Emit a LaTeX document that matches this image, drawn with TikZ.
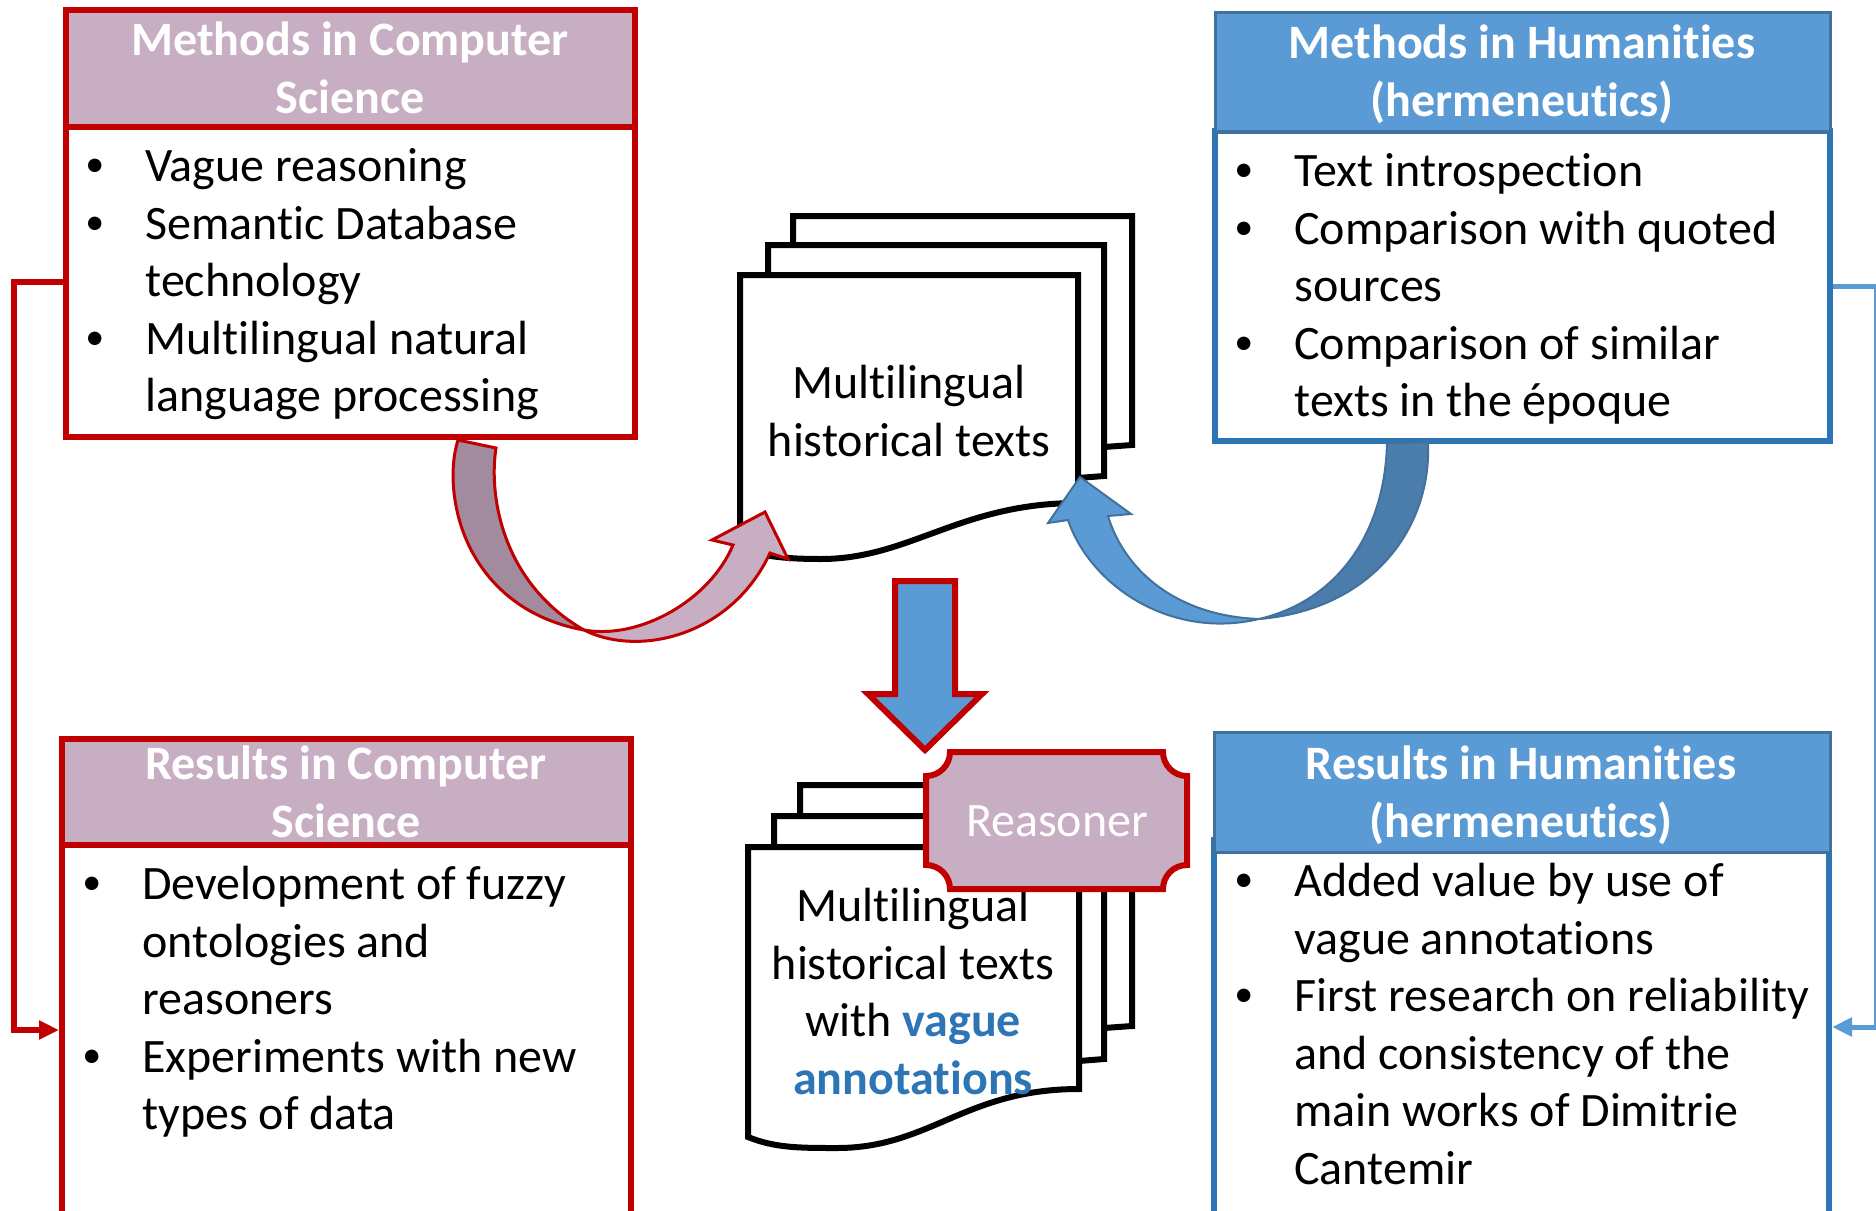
\documentclass[tikz,border=0pt]{standalone}
\usepackage{fontspec}
\setmainfont{Carlito}[Ligatures=NoCommon]
\usetikzlibrary{arrows.meta,calc}
\definecolor{cred}{HTML}{C00000}
\definecolor{mauve}{HTML}{C8AEC2}
\definecolor{dmauve}{HTML}{A28B9E}
\definecolor{cblue}{HTML}{5B9BD5}
\definecolor{bblue}{HTML}{2E75B6}
\definecolor{dblue}{HTML}{4A7CAC}
\definecolor{hblue}{HTML}{41719C}
\newcommand{\fsz}{\fontsize{24}{28.75}\selectfont}
\newcommand{\bul}{\strut\makebox[30pt][l]{\raisebox{2.5pt}{\fontsize{19}{19}\selectfont\textbullet}}}
\newcommand{\ind}{\strut\hspace*{30pt}}
\tikzset{
  px/.style={x=0.5pt,y=-0.5pt},
  boxbase/.style={draw,line width=3pt,inner sep=0pt,line join=miter},
  redhead/.style={boxbase,draw=cred,fill=mauve},
  redbody/.style={boxbase,draw=cred,fill=white},
  bluehead/.style={boxbase,draw=hblue,line width=1.5pt,fill=cblue},
  bluebody/.style={boxbase,draw=bblue,fill=white},
  headtext/.style={anchor=north,inner sep=0pt,align=center,text=white,font=\fsz\bfseries},
  bodytext/.style={anchor=north west,inner sep=0pt,align=left,text=black,font=\fsz},
  doctext/.style={anchor=north,inner sep=0pt,align=center,text=black,font=\fsz},
  page/.style={draw=black,fill=white,line width=3pt,line join=miter},
  redlink/.style={draw=cred,line width=3pt,-{Triangle[length=10pt,width=9pt]}},
  bluelink/.style={draw=cblue,line width=2.5pt,-{Triangle[length=10pt,width=9pt]}},
  curvered/.style={draw=cred,line width=1.5pt,line join=miter},
  curveblue/.style={draw=hblue,line width=1pt,line join=miter},
}
\begin{document}
\begin{tikzpicture}[px]
\useasboundingbox (0,0) rectangle (1876,1211);
\clip (0,0) rectangle (1876,1211);
\fill[white] (0,0) rectangle (1876,1211);

% boxes
\node[redhead,minimum width=284.5pt,minimum height=58.5pt] (m1h) at (350.5,68.5) {};
\node[redbody,minimum width=284.5pt,minimum height=155pt] (m1b) at (350.5,282) {};
\node[bluebody,minimum width=307.5pt,minimum height=155pt] (m2b) at (1522.5,286) {};
\node[bluehead,minimum width=307.5pt,minimum height=59.5pt] (m2h) at (1522.5,71.5) {};
\node[redhead,minimum width=284.5pt,minimum height=53pt] (r1h) at (346.5,792) {};
\node[redbody,minimum width=284.5pt,minimum height=185pt] (r1b) at (346.5,1030) {};
\node[bluebody,minimum width=307.5pt,minimum height=187pt] (r2b) at (1521.5,1027) {};
\node[bluehead,minimum width=308pt,minimum height=60pt] (r2h) at (1522,792) {};

% connectors
\coordinate (lbend) at (14,282);
\coordinate (rbend) at (1876,286);
\draw[redlink] (m1b.west) -- (lbend) |- (r1b.west);
\draw[bluelink] (m2b.east) -- (rbend) |- (r2b.east);

% top document stack
\path[page] (793,216) -- (1132,216) -- (1132,445) -- (1104,447) -- (793,447) -- cycle;
\path[page] (768,245) -- (1104,245) -- (1104,476) -- (1078,478) -- (768,478) -- cycle;
\path[page] (740,275) -- (1078,275) -- (1078,503) .. controls (960,503) and (910,559) .. (821,559) .. controls (790,559) and (765,557) .. (740,549) -- cycle;
\node[doctext] (doc1) at (909,358) {\strut Multilingual\\\strut historical texts};

% bottom document stack
\path[page] (800,785) -- (1132,785) -- (1132,1026) -- (1104,1028) -- (800,1028) -- cycle;
\path[page] (774,816) -- (1104,816) -- (1104,1059) -- (1079,1061) -- (774,1061) -- cycle;
\path[page] (748,847) -- (1079,847) -- (1079,1089) .. controls (965,1089) and (930,1148) .. (837,1148) .. controls (800,1148) and (775,1148) .. (748,1137) -- cycle;
\node[doctext] (doc2) at (913,881) {\strut Multilingual\\\strut historical texts\\\strut with \textcolor{bblue}{\textbf{vague}}\\\strut\textcolor{bblue}{\textbf{annotations}}};

% plaque
\path[draw=cred,fill=mauve,line width=3pt,line join=miter]
  (950,752) -- (1163,752) arc[start angle=180,end angle=270,x radius=24,y radius=-24]
  -- (1187,865) arc[start angle=90,end angle=180,x radius=24,y radius=-24]
  -- (950,889) arc[start angle=0,end angle=90,x radius=24,y radius=-24]
  -- (926,776) arc[start angle=270,end angle=360,x radius=24,y radius=-24] -- cycle;
\node[anchor=north,inner sep=0pt,text=white,font=\fsz] (reasoner) at (1057,796) {\strut Reasoner};

% big down arrow
\path[draw=cred,fill=cblue,line width=3pt,line join=miter]
  (895,581) -- (955,581) -- (955,694) -- (982,694) -- (925,750) -- (868,694) -- (895,694) -- cycle;

% left curved arrow
\path[curvered,fill=mauve] (584,630) .. controls (640,658) and (732,635) .. (770,553)
  -- (788,559) -- (765,512) -- (712,540) -- (733,545)
  .. controls (710,600) and (640,640) .. (584,630) -- cycle;
\path[curvered,fill=dmauve] (458,440) -- (496,448) .. controls (488,500) and (505,585) .. (584,630)
  .. controls (500,615) and (455,550) .. (453,478) .. controls (453,460) and (455,450) .. (458,440) -- cycle;

% right curved arrow
\path[curveblue,fill=cblue] (1259,619) .. controls (1170,640) and (1090,585) .. (1068,520)
  -- (1048,523) -- (1080,477) -- (1131,514) -- (1108,516)
  .. controls (1125,572) and (1178,616) .. (1259,619) -- cycle;
\path[curveblue,fill=dblue] (1387,443) -- (1428,442) .. controls (1432,530) and (1370,610) .. (1259,619)
  .. controls (1340,600) and (1385,530) .. (1387,443) -- cycle;

% header text
\node[headtext] (t1) at (350,15) {\strut Methods in Computer\\\strut Science};
\node[headtext] (t2) at (1522,18) {\strut Methods in Humanities\\\strut (hermeneutics)};
\node[headtext] (t3) at (346,739) {\strut Results in Computer\\\strut Science};
\node[headtext] (t4) at (1521,739) {\strut Results in Humanities\\\strut (hermeneutics)};

% body text
\node[bodytext] (b1) at (85,141) {\bul Vague reasoning\\\bul Semantic Database\\\ind technology\\\bul Multilingual natural\\\ind language processing};
\node[bodytext] (b2) at (1234,146) {\bul Text introspection\\\bul Comparison with quoted\\\ind sources\\\bul Comparison of similar\\\ind texts in the époque};
\node[bodytext] (b3) at (82,859) {\bul Development of fuzzy\\\ind ontologies and\\\ind reasoners\\\bul Experiments with new\\\ind types of data};
\node[bodytext] (b4) at (1234,856) {\bul Added value by use of\\\ind vague annotations\\\bul First research on reliability\\\ind and consistency of the\\\ind main works of Dimitrie\\\ind Cantemir};
\end{tikzpicture}
\end{document}
